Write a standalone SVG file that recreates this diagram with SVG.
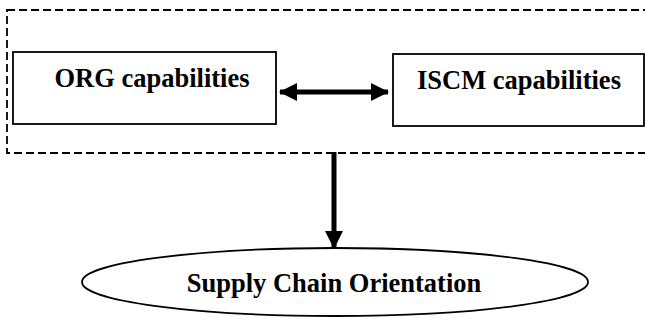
<svg xmlns="http://www.w3.org/2000/svg" width="645" height="320" viewBox="0 0 645 320">
<style>
.box{fill:#fff;stroke:#000;stroke-width:1.8}
.lbl{font-family:"Liberation Serif","Times New Roman",serif;font-weight:bold;font-size:26.5px;fill:#000;text-anchor:middle}
.dash{fill:none;stroke:#000;stroke-width:1.8;stroke-dasharray:8 4}
.conn{stroke:#000;stroke-width:5;fill:none}
</style>
<defs>
<marker id="ah" markerUnits="userSpaceOnUse" markerWidth="18" markerHeight="18" viewBox="0 0 18 18" refX="17" refY="9" orient="auto-start-reverse">
<path d="M0,0 L18,9 L0,18 Z" fill="#000"/>
</marker>
</defs>
<rect id="group-frame" class="dash" x="7" y="10" width="650" height="143"/>
<g id="org">
<rect class="box" x="13" y="52" width="263" height="72"/>
<text class="lbl" x="152" y="87">ORG capabilities</text>
</g>
<g id="iscm">
<rect class="box" x="393" y="54" width="251" height="72"/>
<text class="lbl" x="519" y="89">ISCM capabilities</text>
</g>
<g id="sco">
<ellipse class="box" cx="335" cy="282" rx="253" ry="34"/>
<text class="lbl" x="334" y="292">Supply Chain Orientation</text>
</g>
<g id="connectors">
<line class="conn" x1="280" y1="92" x2="388" y2="92" marker-start="url(#ah)" marker-end="url(#ah)"/>
<line class="conn" x1="334" y1="152" x2="334" y2="248" marker-end="url(#ah)"/>
</g>
</svg>
